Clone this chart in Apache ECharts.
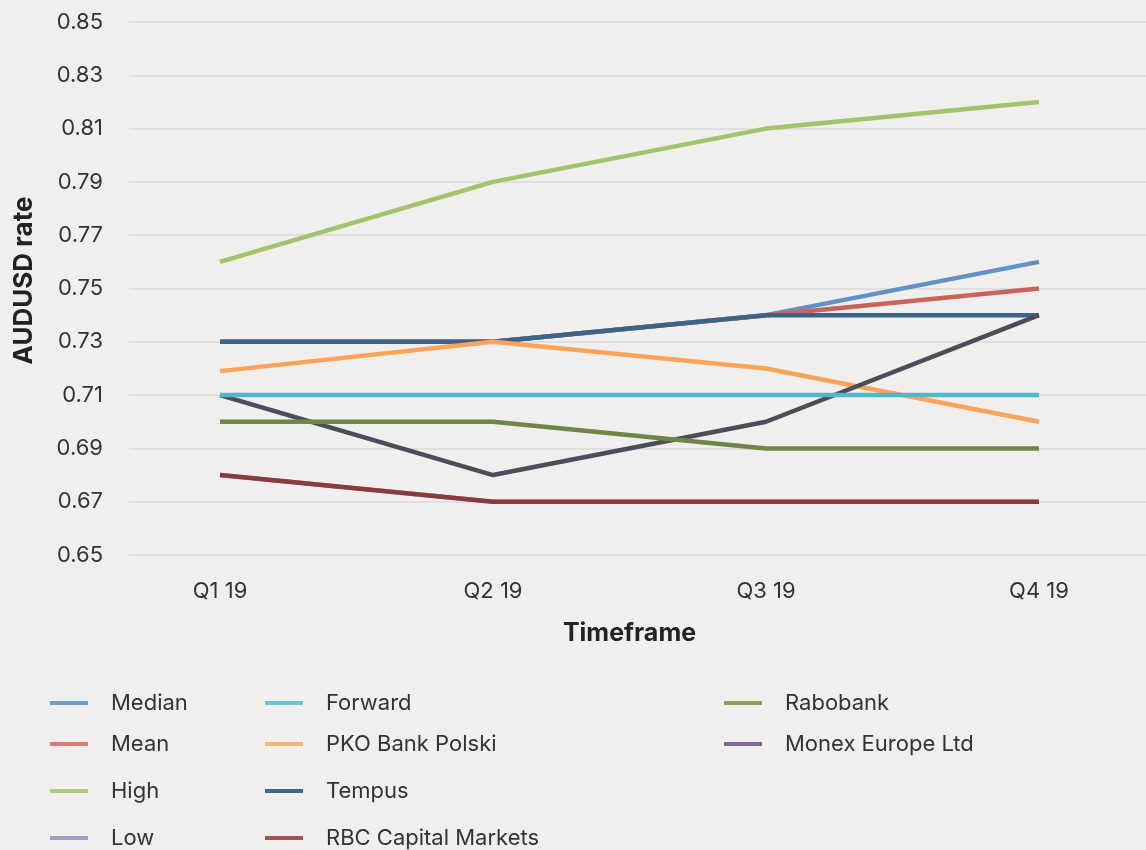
<!DOCTYPE html>
<html>
<head>
<meta charset="utf-8">
<script src="https://cdn.jsdelivr.net/npm/echarts@6/dist/echarts.min.js"></script>
<style>
html,body{margin:0;padding:0;background:#f0efed;}
#c{width:1146px;height:850px;}
</style>
</head>
<body>
<div id="c"></div>
<script>
var categories = ['Q1 19', 'Q2 19', 'Q3 19', 'Q4 19'];
var yTicks = [0.65, 0.67, 0.69, 0.71, 0.73, 0.75, 0.77, 0.79, 0.81, 0.83, 0.85];

var median   = [0.73, 0.73, 0.74, 0.76];
var mean     = [0.73, 0.73, 0.74, 0.75];
var high     = [0.76, 0.79, 0.81, 0.82];
var low      = [0.68, 0.67, 0.67, 0.67];
var forward  = [0.71, 0.71, 0.71, 0.71];
var pko      = [0.719, 0.73, 0.72, 0.70];
var tempus   = [0.73, 0.73, 0.74, 0.74];
var rbc      = [0.68, 0.67, 0.67, 0.67];
var rabobank = [0.70, 0.70, 0.69, 0.69];
var monex    = [0.71, 0.68, 0.70, 0.74];

var legendCol1 = ['Median', 'Mean', 'High', 'Low'];
var legendCol2 = ['Forward', 'PKO Bank Polski', 'Tempus', 'RBC Capital Markets'];
var legendCol3 = ['Rabobank', 'Monex Europe Ltd'];

var FONT = 'Inter, "Noto Sans", sans-serif';

function mk(name, data, lineColor, legendColor) {
  return {
    name: name, type: 'line', data: data,
    xAxisIndex: 1, yAxisIndex: 1,
    showSymbol: false, symbol: 'none', smooth: false,
    lineStyle: { color: lineColor, width: 4.5 },
    itemStyle: { color: legendColor },
    emphasis: { disabled: true },
    animation: false
  };
}

var series = [
  mk('Median', median, '#5f93c6', '#6a9fd0'),
  mk('Mean', mean, '#c9635c', '#dc7b73'),
  mk('High', high, '#a3c46c', '#afcc7c'),
  mk('Low', low, '#a898c4', '#a898c4'),
  mk('Tempus', tempus, '#3a6589', '#3c6890'),
  mk('RBC Capital Markets', rbc, '#893a3f', '#a6544a'),
  mk('PKO Bank Polski', pko, '#fca35a', '#fcb46e'),
  mk('Monex Europe Ltd', monex, '#4e4b5a', '#7a6a94'),
  mk('Rabobank', rabobank, '#6e8646', '#8fa05c'),
  mk('Forward', forward, '#4fb9cc', '#68c3d6')
];

var rowCenters = [703, 744, 791, 838];
var colLefts = [50, 265, 724];
var legends = [];
[legendCol1, legendCol2, legendCol3].forEach(function (col, ci) {
  col.forEach(function (name, ri) {
    legends.push({
      data: [name], orient: 'horizontal', left: colLefts[ci], top: rowCenters[ri] - 13,
      padding: 0,
      icon: 'rect', itemWidth: 38, itemHeight: 4,
      selectedMode: false,
      textStyle: { fontFamily: FONT, fontSize: 22, color: '#333', lineHeight: 26, padding: [0, 0, 0, 18] }
    });
  });
});

var chart = echarts.init(document.getElementById('c'), null, { renderer: 'canvas' });
chart.setOption({
  backgroundColor: '#f0efed',
  animation: false,
  grid: [
    { left: 129, right: 0, top: 22, bottom: 295 },
    { left: 220, right: 107, top: 22, bottom: 295 }
  ],
  legend: legends,
  xAxis: [
    { type: 'category', gridIndex: 0, data: categories, show: false },
    {
      type: 'category', gridIndex: 1, data: categories, boundaryGap: false,
      axisLine: { show: false }, axisTick: { show: false }, splitLine: { show: false },
      axisLabel: { fontFamily: FONT, fontSize: 22, color: '#333', margin: 25 },
      name: 'Timeframe', nameLocation: 'middle', nameGap: 66,
      nameTextStyle: { fontFamily: FONT, fontSize: 25, fontWeight: 'bold', color: '#222' }
    }
  ],
  yAxis: [
    {
      type: 'value', gridIndex: 0, min: 0.65, max: 0.85, interval: 0.02,
      axisLine: { show: false }, axisTick: { show: false },
      splitLine: { show: true, lineStyle: { color: '#dcdad7', width: 1.5 } },
      axisLabel: { fontFamily: FONT, fontSize: 22, color: '#333', margin: 26,
        formatter: function (v) { return v.toFixed(2); } },
      name: 'AUDUSD rate', nameLocation: 'middle', nameGap: 92,
      nameTextStyle: { fontFamily: FONT, fontSize: 26, fontWeight: 'bold', color: '#222', padding: [0, 0, 0, 16] }
    },
    {
      type: 'value', gridIndex: 1, min: 0.65, max: 0.85, interval: 0.02, show: false,
      splitLine: { show: false }
    }
  ],
  series: series
});
</script>
</body>
</html>
